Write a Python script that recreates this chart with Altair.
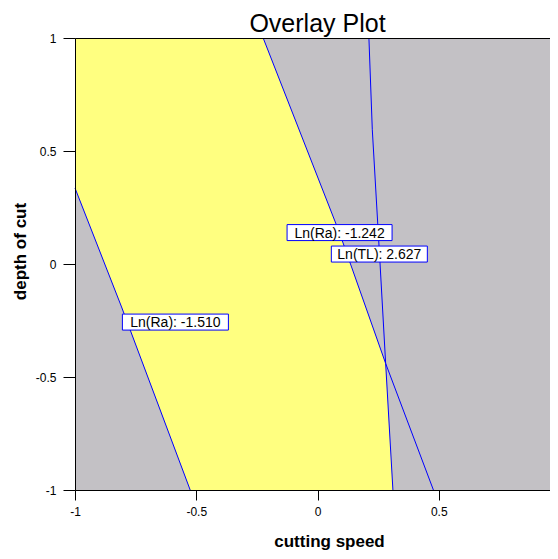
import altair as alt
import numpy as np
import pandas as pd

# ---- data ----
x_ticks = [-1, -0.5, 0, 0.5, 1]
y_ticks = [-1, -0.5, 0, 0.5, 1]

# contour Ln(Ra) = -1.510
ra1_x = [-1.0, -0.808, -0.525]
ra1_y = [0.336, -0.190, -1.0]
# contour Ln(Ra) = -1.242
ra2_x = [-0.224, 0.090, 0.281, 0.478]
ra2_y = [1.0, 0.140, -0.440, -1.0]
# contour Ln(TL) = 2.627
tl_x = [0.212, 0.226, 0.258, 0.281, 0.311]
tl_y = [1.0, 0.594, 0.0, -0.440, -1.0]

label_text = ["Ln(Ra): -1.510", "Ln(Ra): -1.242", "Ln(TL): 2.627"]
label_x = [-0.586, 0.091, 0.255]
label_y = [-0.257, 0.139, 0.044]
label_w = [106, 105, 96]

FONT = "Liberation Sans"
GRAY = "#C3C1C5"
YELLOW = "#FFFF80"
BLUE = "#0000FF"

# ---- tables ----
rows = []
for name, xs_, ys_ in [("ra1", ra1_x, ra1_y), ("ra2", ra2_x, ra2_y), ("tl", tl_x, tl_y)]:
    for i, (a, b) in enumerate(zip(xs_, ys_)):
        rows.append({"series": name, "i": i, "x": a, "y": b})
lines_df = pd.DataFrame(rows)

knots = sorted(set(ra1_y + ra2_y + tl_y + [1.0]), reverse=True)
left = [-1.0 if y >= ra1_y[0] else float(np.interp(y, ra1_y[::-1], ra1_x[::-1])) for y in knots]
right = [min(float(np.interp(y, ra2_y[::-1], ra2_x[::-1])),
             float(np.interp(y, tl_y[::-1], tl_x[::-1]))) for y in knots]
area_df = pd.DataFrame({"y": knots, "x": left, "xr": right})

labels_df = pd.DataFrame({"text": label_text, "x": label_x, "y": label_y})

xs = alt.Scale(domain=[-1, 1], nice=False, zero=False)
ys = alt.Scale(domain=[-1, 1], nice=False, zero=False)

x_axis = alt.Axis(
    values=x_ticks, labelExpr="toString(datum.value)", grid=False,
    tickSize=10, labelPadding=6, labelFontSize=12, labelFont=FONT, labelColor="black",
    domainColor="black", tickColor="black", labelFlush=False, labelOverlap=False,
    title="cutting speed", titleFont=FONT, titleFontSize=17, titleFontWeight="bold",
    titleColor="black", titleX=254, titleY=56, titleBaseline="alphabetic", titleAlign="center",
    zindex=1,
)
y_axis = alt.Axis(
    values=y_ticks, labelExpr="toString(datum.value)", grid=True, gridColor="black",
    gridOpacity={"condition": {"test": "datum.value === 1", "value": 1}, "value": 0},
    tickSize=12, labelPadding=7, labelFontSize=12, labelFont=FONT, labelColor="black",
    domainColor="black", tickColor="black", labelFlush=False, labelOverlap=False,
    title="depth of cut", titleFont=FONT, titleFontSize=17, titleFontWeight="bold",
    titleColor="black", titleX=-50, titleY=213, titleAngle=270,
    titleBaseline="alphabetic", titleAlign="center", zindex=1,
)

X = alt.X("x:Q", scale=xs, axis=x_axis)
Y = alt.Y("y:Q", scale=ys, axis=y_axis)

region = alt.Chart(area_df).mark_area(orient="horizontal", color=YELLOW, opacity=1).encode(
    x=X, x2="xr:Q", y=Y
)
lines = alt.Chart(lines_df).mark_line(color=BLUE, strokeWidth=1).encode(
    x=X, y=Y, detail="series:N", order="i:Q"
)
layers = [region, lines]
for k in range(len(label_text)):
    sub = labels_df.iloc[[k]]
    layers.append(
        alt.Chart(sub).mark_rect(width=label_w[k], height=16, fill="white",
                                 stroke=BLUE, strokeWidth=1).encode(x=X, y=Y)
    )
layers.append(
    alt.Chart(labels_df).mark_text(font=FONT, fontSize=14, color="black",
                                   align="center", baseline="middle", dy=1).encode(
        x=X, y=Y, text="text:N")
)

chart = alt.layer(*layers).properties(
    width=485, height=452,
    padding={"left": 67, "top": 30, "right": -10, "bottom": 61},
    autosize=alt.AutoSizeParams(type="none"),
    title=alt.TitleParams("Overlay Plot", font=FONT, fontSize=25, fontWeight="normal",
                          color="black", anchor="middle", frame="group", offset=4, dy=9),
).configure_view(fill=GRAY, stroke=None)

chart.save("out.html", embed_options={"renderer": "svg", "actions": False})
